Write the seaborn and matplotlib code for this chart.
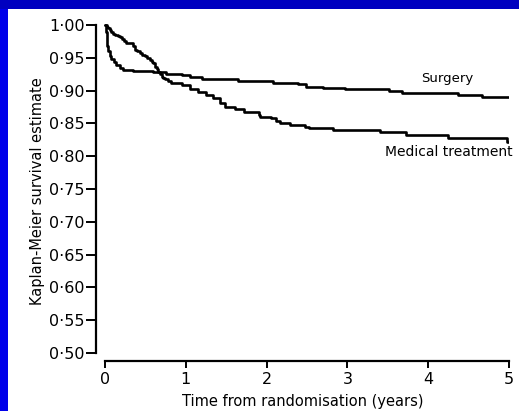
import numpy as np
import pandas as pd
import matplotlib
matplotlib.use("Agg")
import matplotlib.pyplot as plt
from matplotlib.patches import Rectangle
from matplotlib.ticker import FixedLocator, FuncFormatter
import seaborn as sns

# ---- data ----
surgery_t = [0, 0.01, 0.02, 0.03, 0.04, 0.06, 0.08, 0.11, 0.14, 0.18, 0.22, 0.35, 0.6,
             0.75, 0.95, 1.05, 1.2, 1.65, 2.08, 2.39, 2.49, 2.7, 2.97, 3.52, 3.67, 4.37, 4.66, 5.0]
surgery_s = [1.0, 0.99, 0.978, 0.968, 0.960, 0.953, 0.948, 0.943, 0.939, 0.935, 0.932, 0.930, 0.928,
             0.926, 0.924, 0.921, 0.917, 0.914, 0.911, 0.910, 0.906, 0.904, 0.902, 0.899, 0.897, 0.894, 0.890, 0.890]
medical_t = [0, 0.02, 0.04, 0.06, 0.08, 0.10, 0.13, 0.16, 0.19, 0.21, 0.23, 0.26, 0.35, 0.37,
             0.40, 0.43, 0.46, 0.49, 0.52, 0.556, 0.58, 0.60, 0.62, 0.64, 0.66, 0.68, 0.70, 0.72,
             0.74, 0.78, 0.82, 0.95, 1.05, 1.15, 1.25, 1.34, 1.42, 1.48, 1.61, 1.72, 1.9, 1.92,
             2.06, 2.12, 2.16, 2.29, 2.47, 2.53, 2.82, 3.40, 3.73, 4.24, 4.98, 5.0]
medical_s = [1.0, 0.997, 0.995, 0.992, 0.990, 0.987, 0.985, 0.983, 0.982, 0.979, 0.976, 0.972, 0.968, 0.962,
             0.960, 0.957, 0.955, 0.952, 0.950, 0.947, 0.944, 0.942, 0.936, 0.933, 0.929, 0.925, 0.921, 0.919,
             0.917, 0.914, 0.911, 0.909, 0.903, 0.898, 0.893, 0.888, 0.881, 0.875, 0.872, 0.868, 0.863, 0.859,
             0.858, 0.853, 0.850, 0.848, 0.845, 0.843, 0.840, 0.837, 0.832, 0.827, 0.821, 0.821]
group_names = ["Surgery", "Medical treatment"]
x_ticks = [0, 1, 2, 3, 4, 5]
y_ticks = [0.50, 0.55, 0.60, 0.65, 0.70, 0.75, 0.80, 0.85, 0.90, 0.95, 1.00]
x_label = "Time from randomisation (years)"
y_label = "Kaplan-Meier survival estimate"

df = pd.concat([
    pd.DataFrame({"time": surgery_t, "surv": surgery_s, "group": group_names[0]}),
    pd.DataFrame({"time": medical_t, "surv": medical_s, "group": group_names[1]}),
], ignore_index=True)

sns.set_theme(style="ticks")
plt.rcParams["font.family"] = ["DejaVu Sans"]

W, H = 519, 411
fig = plt.figure(figsize=(W / 100, H / 100), dpi=100)
fig.patch.set_facecolor("#0000ea")
fig.patches.append(Rectangle((0, 1 - 9 / H), 1, 9 / H, transform=fig.transFigure,
                             facecolor="#0000c0", edgecolor="none", zorder=-2))
fig.patches.append(Rectangle((8 / W, 0), 1 - 8 / W, 1 - 9 / H, transform=fig.transFigure,
                             facecolor="white", edgecolor="none", zorder=-1))

left_px, right_px = 96, 509
bottom_px, top_px = 361, 21.7
ax = fig.add_axes([left_px / W, 1 - bottom_px / H, (right_px - left_px) / W, (bottom_px - top_px) / H])
ax.set_facecolor("none")

sns.lineplot(data=df, x="time", y="surv", hue="group", palette=["black", "black"],
             estimator=None, drawstyle="steps-post", linewidth=1.9, legend=False, ax=ax)

ax.set_xlim(-0.111, 5.0)
ax.set_ylim(0.4878, 1.005)
ax.xaxis.set_major_locator(FixedLocator(x_ticks))
ax.yaxis.set_major_locator(FixedLocator(y_ticks))
ax.yaxis.set_major_formatter(FuncFormatter(lambda v, p: f"{v:.2f}".replace(".", "\u00b7")))
ax.xaxis.set_major_formatter(FuncFormatter(lambda v, p: f"{int(round(v))}"))

for s in ["top", "right"]:
    ax.spines[s].set_visible(False)
ax.spines["left"].set_bounds(0.5, 1.0)
ax.spines["bottom"].set_bounds(0, 5)
for s in ["left", "bottom"]:
    ax.spines[s].set_linewidth(1.6)
    ax.spines[s].set_color("black")

ax.tick_params(axis="y", length=7, width=1.4, colors="black", labelsize=11.5, pad=1)
ax.tick_params(axis="x", length=5, width=1.4, colors="black", labelsize=11.5, pad=3)
ax.set_xlabel(x_label, fontsize=10.5, color="black", labelpad=5)
ax.set_ylabel(y_label, fontsize=10.5, color="black", labelpad=3)

ax.text(4.24, 0.919, group_names[0], ha="center", va="center", fontsize=9.5, color="black")
ax.text(5.04, 0.806, group_names[1], ha="right", va="center", fontsize=10, color="black")

fig.savefig("out.png", dpi=100, facecolor=fig.get_facecolor())
